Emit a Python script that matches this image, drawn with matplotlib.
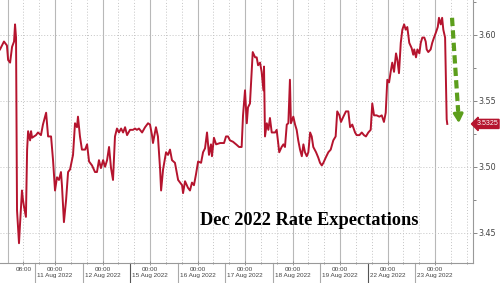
"""Dec 2022 rate expectations (intraday, trading days only)"""

import matplotlib
matplotlib.use("Agg")
import matplotlib.pyplot as plt
from matplotlib.ticker import FixedLocator
import matplotlib.transforms as mtransforms

# x is hours since 10 Aug 2022 00:00, counted on trading days only
hours = [
    -3.8, -1.8, -0.3, 0.3, 1.3, 2.3, 3.3, 3.8, 4.3, 4.8, 5.8, 6.3, 7.3, 7.8, 8.3,
    9.3, 9.9, 10.4, 11.4, 11.9, 12.4, 13.4, 14.4, 15.4, 16.9, 17.9, 19.5, 20.5,
    22.0, 23.0, 24.0, 25.0, 26.0, 27.0, 27.5, 28.5, 29.6, 30.6, 31.6, 33.1, 34.1,
    35.1, 35.6, 36.6, 37.6, 39.2, 40.2, 41.2, 42.7, 44.2, 45.2, 46.2, 47.2, 48.3,
    49.3, 50.3, 51.3, 52.3, 53.3, 54.3, 55.3, 56.3, 57.4, 58.4, 59.4, 60.4, 61.9,
    63.4, 64.4, 65.4, 66.4, 68.0, 69.5, 71.0, 72.0, 73.0, 73.5, 75.0, 76.0, 77.1,
    77.6, 78.6, 80.1, 81.1, 82.1, 83.1, 84.6, 86.2, 88.2, 88.7, 89.7, 91.2, 92.2,
    93.2, 94.2, 95.2, 96.3, 97.8, 98.8, 99.8, 100.8, 101.8, 102.8, 103.3, 104.3,
    105.4, 107.4, 109.4, 110.4, 111.4, 112.4, 113.9, 115.5, 117.0, 118.3, 119.0,
    120.0, 120.9, 121.5, 122.5, 123.9, 125.1, 125.9, 126.6, 127.6, 128.4, 129.3,
    129.6, 130.1, 131.0, 131.8, 132.6, 133.5, 135.2, 136.0, 137.3, 138.5, 139.4,
    140.2, 141.1, 141.9, 142.7, 143.2, 144.4, 145.3, 146.1, 146.9, 147.8, 148.7,
    149.5, 150.3, 151.2, 152.0, 152.9, 153.7, 154.5, 155.9, 157.0, 157.9, 158.8,
    159.6, 160.8, 162.1, 163.3, 164.6, 165.8, 166.6, 167.7, 168.5, 169.7, 171.0,
    172.2, 173.1, 174.2, 175.6, 176.4, 177.8, 179.0, 180.1, 181.1, 182.3, 183.5,
    184.3, 185.2, 186.5, 187.9, 189.1, 190.2, 191.1, 191.9, 192.8, 193.6, 194.4,
    195.3, 196.3, 197.0, 197.8, 198.7, 199.5, 200.4, 201.2, 202.0, 203.0, 204.2,
    205.0, 205.5, 206.4, 207.1, 208.1, 208.8, 209.6, 210.6, 211.3, 211.8, 212.6,
    213.8, 214.6, 215.5, 216.5, 217.4, 218.0, 218.9, 219.6, 220.2, 221.1, 221.9,
    222.2,
]
rate = [
    3.589, 3.595, 3.592, 3.581, 3.579, 3.591, 3.595, 3.608, 3.598, 3.467, 3.442,
    3.456, 3.482, 3.475, 3.470, 3.462, 3.513, 3.527, 3.520, 3.527, 3.522, 3.523,
    3.524, 3.526, 3.524, 3.532, 3.541, 3.523, 3.523, 3.505, 3.482, 3.492, 3.490,
    3.496, 3.486, 3.458, 3.475, 3.496, 3.498, 3.509, 3.533, 3.530, 3.538, 3.523,
    3.513, 3.513, 3.517, 3.504, 3.501, 3.496, 3.496, 3.505, 3.499, 3.505, 3.500,
    3.505, 3.515, 3.499, 3.490, 3.523, 3.529, 3.526, 3.529, 3.526, 3.530, 3.524,
    3.528, 3.528, 3.529, 3.528, 3.529, 3.526, 3.530, 3.533, 3.532, 3.524, 3.518,
    3.530, 3.523, 3.498, 3.482, 3.498, 3.511, 3.509, 3.513, 3.505, 3.503, 3.490,
    3.486, 3.480, 3.489, 3.484, 3.482, 3.488, 3.486, 3.494, 3.504, 3.503, 3.511,
    3.514, 3.526, 3.509, 3.517, 3.508, 3.522, 3.517, 3.518, 3.518, 3.523, 3.523,
    3.520, 3.519, 3.517, 3.515, 3.515, 3.539, 3.558, 3.533, 3.545, 3.548, 3.587,
    3.583, 3.583, 3.577, 3.579, 3.572, 3.558, 3.576, 3.523, 3.533, 3.528, 3.537,
    3.526, 3.526, 3.528, 3.511, 3.515, 3.517, 3.515, 3.532, 3.533, 3.566, 3.533,
    3.538, 3.532, 3.528, 3.520, 3.513, 3.508, 3.517, 3.511, 3.508, 3.511, 3.526,
    3.523, 3.515, 3.511, 3.507, 3.503, 3.501, 3.503, 3.507, 3.511, 3.513, 3.520,
    3.523, 3.542, 3.539, 3.534, 3.538, 3.542, 3.542, 3.530, 3.532, 3.526, 3.524,
    3.524, 3.526, 3.524, 3.523, 3.526, 3.528, 3.548, 3.539, 3.539, 3.538, 3.539,
    3.534, 3.541, 3.566, 3.564, 3.572, 3.579, 3.572, 3.586, 3.581, 3.571, 3.594,
    3.604, 3.608, 3.604, 3.606, 3.594, 3.590, 3.585, 3.589, 3.583, 3.589, 3.586,
    3.594, 3.598, 3.598, 3.595, 3.589, 3.587, 3.589, 3.594, 3.598, 3.602, 3.606,
    3.613, 3.608, 3.613, 3.604, 3.598, 3.536, 3.5325,
]
last_value = 3.5325

days = ["11 Aug 2022", "12 Aug 2022", "15 Aug 2022", "16 Aug 2022",
        "17 Aug 2022", "18 Aug 2022", "19 Aug 2022", "22 Aug 2022",
        "23 Aug 2022"]
y_ticks = [3.45, 3.50, 3.55, 3.60]
title = "Dec 2022 Rate Expectations"

LINE = "#b5142e"
GRID = "#b8b8b8"
TXT = "#444444"
GREEN = "#5c9e1c"

fig = plt.figure(figsize=(5, 2.83), dpi=100)
ax = fig.add_axes([0, 0.0707, 0.946, 0.9293])
ax.set_xlim(-3.8, 235.2)
ax.set_ylim(3.427, 3.6265)

# grid: solid at midnight, dotted at 08:00 and 16:00
midnights = [24 * k for k in range(len(days) + 1)]
for m in midnights:
    ax.axvline(m, color=GRID, lw=0.8, zorder=0)
    for off in (8, 16):
        ax.axvline(m + off, color="#c4c4c4", lw=0.7, ls=(0, (1, 2)), zorder=0)
for yt in y_ticks:
    ax.axhline(yt, color="#c4c4c4", lw=0.7, ls=(0, (1, 2)), zorder=0)

ax.plot(hours, rate, color=LINE, lw=1.4, zorder=3)

# spines
for s in ("top", "left"):
    ax.spines[s].set_visible(False)
ax.spines["right"].set_color("#999999")
ax.spines["bottom"].set_color("#999999")
ax.spines["right"].set_linewidth(0.8)
ax.spines["bottom"].set_linewidth(0.8)

# y axis on the right
ax.yaxis.tick_right()
ax.set_yticks(y_ticks)
ax.set_yticklabels([f"{v:.2f}" for v in y_ticks])
ax.yaxis.set_minor_locator(FixedLocator([3.475, 3.525, 3.575, 3.625]))
ax.tick_params(axis="y", which="both", direction="out", length=3,
               color="#888888", width=0.7, labelsize=5.8, labelcolor=TXT, pad=1)
ax.tick_params(axis="y", which="minor", length=2)

# x axis
xt = [8] + midnights[1:]
xl = ["08:00"] + [f"00:00\n{d}" for d in days]
ax.set_xticks(xt)
ax.set_xticklabels(xl, fontsize=4.6, color=TXT, linespacing=1.15,
                   family="Liberation Sans")
ax.xaxis.set_minor_locator(FixedLocator([m + o for m in midnights for o in (8, 16)]))
ax.tick_params(axis="x", which="both", direction="inout", length=3,
               color="#888888", width=0.6, pad=1.5)
ax.tick_params(axis="x", which="minor", length=2)

# separators between the date labels
trans = mtransforms.blended_transform_factory(ax.transData, ax.transAxes)
for k in range(len(days)):
    xs = 24 * k + 14
    dark = k in (2, 7)
    ax.plot([xs, xs], [0, -0.08], transform=trans, clip_on=False,
            color="#555555" if dark else "#aaaaaa", lw=0.8)

# title inside the plot
ax.text(0.423, 0.163, title, transform=ax.transAxes, fontsize=13.2,
        family="Liberation Serif", fontweight="bold", color="black",
        va="center", ha="left")

# green dashed arrow
ax.plot([224.6, 227.7], [3.613, 3.542], color=GREEN, lw=3,
        ls=(0, (2.0, 1.0)), solid_capstyle="butt", zorder=4)
ax.annotate("", xy=(228.1, 3.531), xytext=(227.6, 3.544),
            arrowprops=dict(arrowstyle="-|>,head_width=0.28,head_length=0.5",
                            color=GREEN, lw=2.2, mutation_scale=10),
            zorder=4)

# last value tag, kept inside the figure
ax.annotate(f"{last_value:.4f}", xy=(0.996, last_value),
            xycoords=("figure fraction", "data"),
            fontsize=5.0, color="white", family="Liberation Sans",
            va="center", ha="right", annotation_clip=False,
            bbox=dict(boxstyle="larrow,pad=0.15", fc=LINE, ec=LINE))

fig.savefig("out.png", dpi=100)
